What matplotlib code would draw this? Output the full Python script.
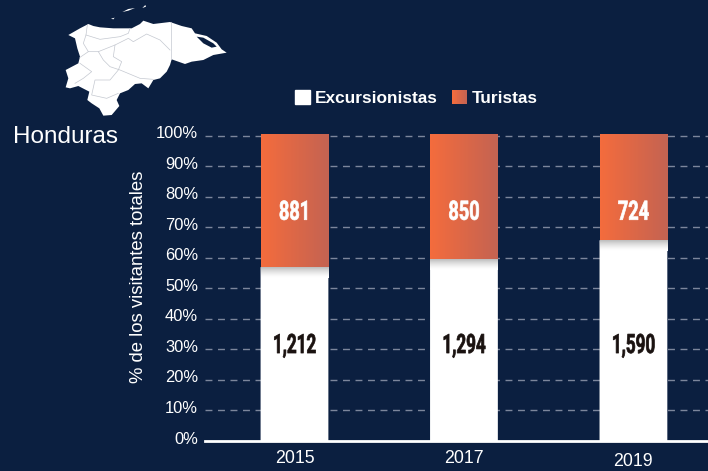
import numpy as np
import matplotlib
matplotlib.use("Agg")
import matplotlib.pyplot as plt
from matplotlib.patches import Polygon, Patch, Rectangle
from matplotlib.patheffects import AbstractPathEffect
from matplotlib.legend_handler import HandlerBase
from matplotlib.transforms import Affine2D

years = ["2015", "2017", "2019"]
excursionistas_pct = [57.0, 59.5, 65.8]
turistas_pct = [43.6, 41.1, 34.8]
excursionistas_labels = ["1,212", "1,294", "1,590"]
turistas_labels = ["881", "850", "724"]
y_ticks = list(range(0, 101, 10))

BG = "#0B1F40"
W, H = 708, 471
ORANGE_L = np.array([0xF4, 0x6C, 0x3D]) / 255
ORANGE_R = np.array([0xC4, 0x63, 0x52]) / 255
plt.rcParams["font.family"] = ["Liberation Sans", "DejaVu Sans"]


class CondenseX(AbstractPathEffect):
    """Narrows real text horizontally about a centre, as no condensed face is installed."""
    def __init__(self, cx, factor, stroke=0.5):
        super().__init__()
        self.cx, self.factor, self.stroke = cx, factor, stroke

    def draw_path(self, renderer, gc, tpath, affine, rgbFace=None):
        squeeze = Affine2D().translate(-self.cx, 0).scale(self.factor, 1).translate(self.cx, 0)
        gc0 = renderer.new_gc()
        gc0.copy_properties(gc)
        gc0.set_foreground(rgbFace)
        gc0.set_linewidth(self.stroke)
        renderer.draw_path(gc0, tpath, affine + squeeze, rgbFace)
        gc0.restore()


class GradientHandle(HandlerBase):
    def create_artists(self, legend, orig, xd, yd, width, height, fontsize, trans):
        n = 16
        out = []
        for i in range(n):
            c = ORANGE_L + (ORANGE_R - ORANGE_L) * i / (n - 1)
            out.append(Rectangle((-xd + width * i / n, -yd), width / n + 0.2, height,
                                 fc=c, ec="none", transform=trans))
        return out


fig = plt.figure(figsize=(W / 100, H / 100), dpi=100, facecolor=BG)
ax = fig.add_axes([205 / W, (H - 441) / H, (W - 205) / W, 307 / H], facecolor=BG)
x = np.arange(len(years))
bw = 0.40

ax.set_yticks(y_ticks, [f"{t}%" for t in y_ticks])
ax.set_xticks(x, years)
ax.tick_params(axis="y", length=0, pad=5, labelsize=11.9, labelcolor="white")
ax.tick_params(axis="x", length=0, pad=6.5, labelsize=12.8, labelcolor="white")
ax.xaxis.get_major_ticks()[2].set_pad(8.5)
for lab in ax.get_yticklabels():
    lab.set_transform(lab.get_transform() + Affine2D().translate(0, 3.5))
ax.grid(False)
for t in y_ticks[1:]:
    ax.axhline(t, color="#7C869C", lw=1.0, dashes=(5, 4), zorder=1)
for s in ["top", "right", "left"]:
    ax.spines[s].set_visible(False)
ax.spines["bottom"].set_color("white")
ax.spines["bottom"].set_linewidth(2)
ax.spines["bottom"].set_zorder(6)

t = np.linspace(0, 1, 64).reshape(1, -1, 1)
orange_grad = ORANGE_L.reshape(1, 1, 3) + t * (ORANGE_R - ORANGE_L).reshape(1, 1, 3)
s = np.linspace(0, 1, 32).reshape(-1, 1)
shadow = 1 - 0.26 * (1 - s) ** 1.5
shadow = np.repeat(shadow[:, :, None], 3, axis=2)

for xi, e, tu in zip(x, excursionistas_pct, turistas_pct):
    ax.bar(xi, e, bw, color="white", zorder=2, linewidth=0, snap=False)
    ax.imshow(orange_grad, extent=(xi - bw / 2, xi + bw / 2, e, e + tu), aspect="auto", zorder=3)
    ax.imshow(shadow, extent=(xi - bw / 2, xi + bw / 2, e - 3.6, e), aspect="auto",
              origin="upper", zorder=3)
ax.set_xlim(-0.528, 2.44)
ax.set_ylim(0, 100.65)

for xi, lab in zip(x, excursionistas_labels):
    tx = ax.text(xi, 31.3, lab, ha="center", va="center", color="#1A1210", fontsize=19.2,
                 fontweight="bold", family=["Roboto", "DejaVu Sans"], zorder=5)
    tx.set_path_effects([CondenseX(ax.transData.transform((xi, 0))[0], 0.64)])
for xi, lab in zip(x, turistas_labels):
    tx = ax.text(xi, 75, lab, ha="center", va="center", color="white", fontsize=19.2,
                 fontweight="bold", family=["Roboto", "DejaVu Sans"], zorder=5)
    tx.set_path_effects([CondenseX(ax.transData.transform((xi, 0))[0], 0.68)])

fig.text(138.5 / W, (H - 277) / H, "% de los visitantes totales", rotation=90, color="white",
         fontsize=13.3, ha="center", va="center")
fig.text(13 / W, (H - 137) / H, "Honduras", color="white", fontsize=17.5, ha="left", va="center")

white_h = Patch(color="white", label="Excursionistas")
orange_h = Patch(color="#E0683F", label="Turistas")
leg = fig.legend(
    handles=[white_h, orange_h], ncols=2, frameon=False, loc="center",
    bbox_to_anchor=(416.5 / W, (H - 98) / H),
    handlelength=0.87, handleheight=0.87, handletextpad=0.3, columnspacing=0.8,
    prop={"weight": "bold", "size": 12.4},
    handler_map={orange_h: GradientHandle()},
)
for tx in leg.get_texts():
    tx.set_color("white")

# decorative map, pixel space of the picture
mp = fig.add_axes([0, 0, 1, 1], facecolor="none")
mp.set_xlim(0, W); mp.set_ylim(H, 0); mp.axis("off"); mp.set_zorder(-1)
ax.set_zorder(1); ax.patch.set_alpha(0)
z = lambda pts: np.array(pts) / 3.0
outline = z([(205,105),(240,85),(265,72),(280,78),(300,82),(340,85),(385,85),(395,85),(420,72),(430,62),
             (460,72),(510,66),(545,78),(575,85),(585,100),(620,108),(650,128),(665,148),(680,158),(640,165),
             (610,180),(575,185),(555,192),(535,185),(515,178),(510,195),(500,215),(480,235),(460,240),(445,265),
             (425,250),(405,252),(385,270),(360,280),(350,300),(358,318),(335,345),(310,347),(298,325),(275,310),
             (262,300),(268,275),(235,258),(210,265),(197,262),(205,235),(197,210),(235,190),(240,170),(232,145),(225,115)])
mp.add_patch(Polygon(outline, fc="white", ec="none"))
for isl in [[(367,36),(385,27),(405,24),(385,32)], [(427,24),(436,15),(438,20)], [(333,56),(344,53),(340,58)]]:
    mp.add_patch(Polygon(z(isl), fc="white", ec="none"))
mp.add_patch(Polygon(z([(590,110),(610,113),(640,130),(650,140),(635,143),(610,130)]), fc=BG, ec="none"))
borders = [
    [(262,75),(258,105),(250,130),(265,155),(240,172)],
    [(258,105),(300,118),(360,110),(385,100),(390,85)],
    [(265,155),(295,155),(345,135),(385,115),(400,125),(440,102),(480,120),(510,150)],
    [(512,66),(512,178)],
    [(295,155),(310,180),(330,200),(360,210),(420,235),(460,238)],
    [(345,135),(340,170),(365,185),(355,210),(330,240),(285,240),(275,285),(320,295),(355,280)],
    [(240,190),(275,215),(250,235),(225,250)],
]
for b in borders:
    pts = z(b)
    mp.plot(pts[:, 0], pts[:, 1], color="#C4C8D0", lw=0.5)

fig.savefig("out.png", dpi=100, facecolor=BG)
